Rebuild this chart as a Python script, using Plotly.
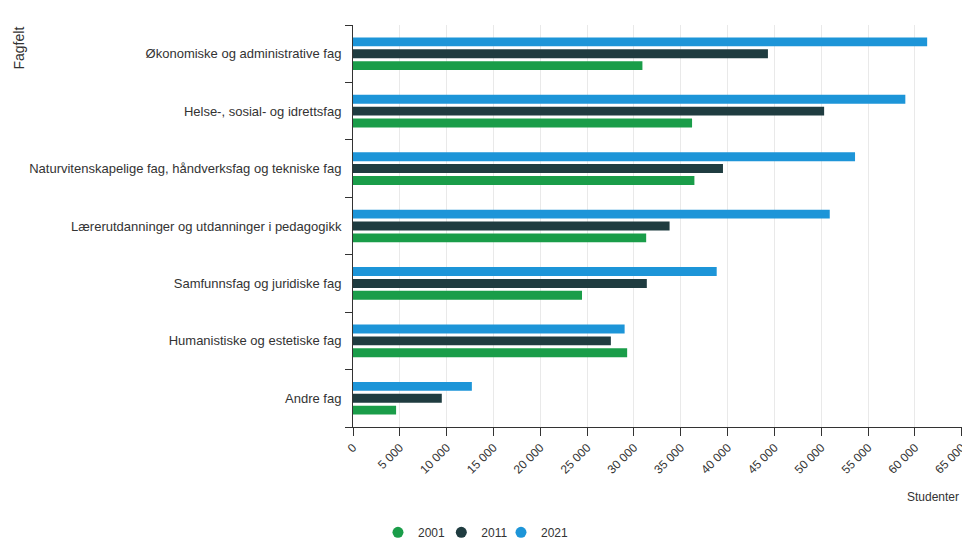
import plotly.graph_objects as go

categories = [
    "Økonomiske og administrative fag",
    "Helse-, sosial- og idrettsfag",
    "Naturvitenskapelige fag, håndverksfag og tekniske fag",
    "Lærerutdanninger og utdanninger i pedagogikk",
    "Samfunnsfag og juridiske fag",
    "Humanistiske og estetiske fag",
    "Andre fag",
]
years = ["2001", "2011", "2021"]
values_2001 = [30900, 36200, 36450, 31300, 24450, 29270, 4600]
values_2011 = [44300, 50300, 39500, 33800, 31370, 27530, 9480]
values_2021 = [61300, 58970, 53600, 50900, 38830, 29000, 12690]
colors = ["#1a9d49", "#1f3c40", "#1d95d8"]
x_ticks = list(range(0, 65001, 5000))
x_tick_labels = [f"{v:,}".replace(",", " ") for v in x_ticks]

series = [values_2001, values_2011, values_2021]
legend_ids = ["legend", "legend2", "legend3"]
legend_x = [0.041, 0.145, 0.243]

fig = go.Figure()
for name, vals, col in zip(years, series, colors):
    fig.add_trace(go.Bar(
        y=categories, x=vals, orientation="h", name=name,
        marker=dict(color=col, line=dict(width=0)),
        showlegend=False,
    ))
# legend entries with circular markers, one legend per entry
for name, col, lid in zip(years, colors, legend_ids):
    fig.add_trace(go.Scatter(
        x=[None], y=[None], mode="markers", name=name,
        marker=dict(color=col, size=11, symbol="circle"),
        showlegend=True, legend=lid,
    ))

font = "Liberation Sans, Arial, sans-serif"
fig.update_layout(
    width=962, height=540,
    margin=dict(l=353, r=0, t=25, b=113, autoexpand=False),
    paper_bgcolor="white", plot_bgcolor="white",
    barmode="group", bargap=0.38, bargroupgap=0.25,
    font=dict(family=font, size=13, color="#333333"),
)
for lid, lx in zip(legend_ids, legend_x):
    fig.update_layout({lid: dict(
        orientation="h", x=lx, xanchor="left", y=-0.262, yanchor="middle",
        font=dict(size=12, color="#333333"), itemwidth=30,
        bgcolor="rgba(0,0,0,0)",
    )})
fig.update_xaxes(
    range=[0, 65020], tickvals=x_ticks, ticktext=x_tick_labels,
    tickangle=-45, ticks="outside", ticklen=8, tickcolor="#333333",
    showline=True, linecolor="#333333", linewidth=1,
    showgrid=True, gridcolor="#e9e9e9", zeroline=False,
    tickfont=dict(size=12, color="#333333"), automargin=False,
    ticklabeloverflow="allow",
)
fig.update_yaxes(
    categoryorder="array", categoryarray=categories[::-1],
    ticks="outside", tickson="boundaries", ticklen=7, tickcolor="#333333",
    showline=True, linecolor="#333333", linewidth=1,
    showgrid=False, tickfont=dict(size=13, color="#333333"),
    ticklabelstandoff=8, automargin=False,
)
fig.add_annotation(
    text="Fagfelt", textangle=-90, xref="paper", yref="paper",
    x=-335 / 609, y=1.0, xanchor="center", yanchor="top",
    showarrow=False, font=dict(size=14, color="#333333"),
)
fig.add_annotation(
    text="Studenter", xref="paper", yref="paper",
    x=0.998, y=-70 / 402, xanchor="right", yanchor="middle",
    showarrow=False, font=dict(size=12, color="#333333"),
)
fig.write_html(
    "out.html",
    config={"displayModeBar": False},
    post_script="document.body.style.margin='0px';document.body.style.overflow='hidden';",
)
